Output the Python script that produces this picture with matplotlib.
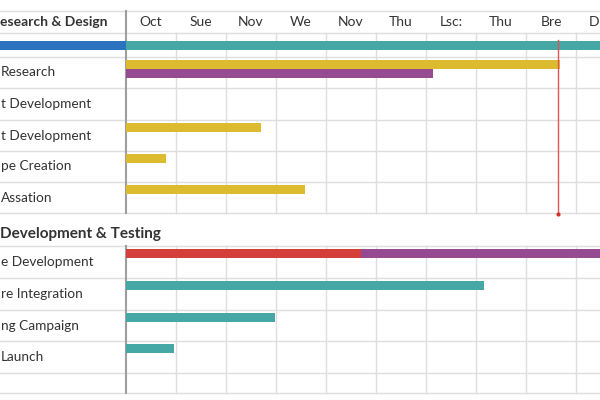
import matplotlib.pyplot as plt
import matplotlib.transforms as mtransforms

plt.rcParams['font.family'] = ['Lato', 'DejaVu Sans']

# column headers along the top (the last one is cut by the right edge)
TICK_LABELS = ["Oct", "Sue", "Nov", "We", "Nov", "Thu", "Lsc:", "Thu", "Bre", "D"]

# groups with their task rows
GROUP_1 = "esearch & Design"
GROUP_1_TASKS = ["", "Research", "t Development", "t Development", "pe Creation", "Assation"]
GROUP_2 = "Development & Testing"
GROUP_2_TASKS = ["e Development", "re Integration", "ng Campaign", "Launch", ""]

# bars: row index (group 1 rows 0..5, group 2 rows 6..10), start, end, colour name
BAR_ROWS = [0, 0, 1, 1, 3, 4, 5, 6, 6, 7, 8, 9]
BAR_STARTS = [-2.6, 0.0, 0.0, 0.0, 0.0, 0.0, 0.0, 0.0, 4.7, 0.0, 0.0, 0.0]
BAR_ENDS = [0.0, 10.0, 8.68, 6.14, 2.7, 0.8, 3.58, 4.7, 10.0, 7.16, 2.98, 0.95]
BAR_COLORS = ["blue", "teal", "yellow", "purple", "yellow", "yellow", "yellow",
              "red", "purple", "teal", "teal", "teal"]

TODAY = 8.64

PALETTE = {
    "blue": "#2b72bf",
    "teal": "#46a8a4",
    "yellow": "#dcbb2f",
    "purple": "#954a91",
    "red": "#d53f3a",
}

# layout in pixels (y grows downward)
GROUP_1_TOP, GROUP_1_HEAD_BOTTOM = 11, 33
GROUP_1_ROW_LINES = [33, 57, 88, 120, 151, 182, 213]
GROUP_2_HEAD_BOTTOM = 246
GROUP_2_ROW_LINES = [246, 278, 310, 341, 373, 393]
BAR_HEIGHT = 9

fig = plt.figure(figsize=(6, 4), dpi=100)
ax = fig.add_axes([0, 0, 1, 1])
ax.set_xlim(-2.52, 9.48)
ax.set_ylim(400, 0)
ax.axis('off')

grid_color = '#dedede'
text_color = '#333333'
axes_x = mtransforms.blended_transform_factory(ax.transAxes, ax.transData)

# horizontal lines
for y in [GROUP_1_TOP] + GROUP_1_ROW_LINES + GROUP_2_ROW_LINES:
    ax.axhline(y, color=grid_color, lw=1, zorder=1)

# vertical grid lines inside each block
for col in range(1, len(TICK_LABELS)):
    ax.plot([col, col], [GROUP_1_HEAD_BOTTOM, GROUP_1_ROW_LINES[-1]], color=grid_color, lw=1, zorder=1)
    ax.plot([col, col], [GROUP_2_HEAD_BOTTOM, GROUP_2_ROW_LINES[-1]], color=grid_color, lw=1, zorder=1)

# separator between labels and chart
ax.plot([0, 0], [GROUP_1_TOP, GROUP_1_ROW_LINES[-1]], color='#9e9e9e', lw=1.5, zorder=2)
ax.plot([0, 0], [GROUP_2_HEAD_BOTTOM, GROUP_2_ROW_LINES[-1]], color='#9e9e9e', lw=1.5, zorder=2)

# column headers
for i, label in enumerate(TICK_LABELS[:-1]):
    ax.text(i + 0.5, 22, label, ha='center', va='center', fontsize=10, color=text_color)
ax.text(len(TICK_LABELS) - 1 + 0.25, 22, TICK_LABELS[-1], ha='left', va='center',
        fontsize=10, color=text_color)

# group headers
ax.text(0.0, 22, GROUP_1, transform=axes_x, ha='left', va='center',
        fontsize=10, fontweight='bold', color=text_color)
ax.text(0.0, 234, GROUP_2, transform=axes_x, ha='left', va='center',
        fontsize=11, fontweight='bold', color=text_color)

# task labels, centred in their rows
row_tops = GROUP_1_ROW_LINES[:-1] + GROUP_2_ROW_LINES[:-1]
row_bottoms = GROUP_1_ROW_LINES[1:] + GROUP_2_ROW_LINES[1:]
labels = GROUP_1_TASKS + GROUP_2_TASKS
for top, bottom, label in zip(row_tops, row_bottoms, labels):
    if label:
        ax.text(0.002, (top + bottom) / 2, label, transform=axes_x, ha='left', va='center',
                fontsize=9.8, color=text_color)

# bars: first row is centred, others hang from the row top; bars starting at 0 stack
stack = {}
for row, start, end, cname in zip(BAR_ROWS, BAR_STARTS, BAR_ENDS, BAR_COLORS):
    top = row_tops[row]
    if row == 0:
        center = (top + row_bottoms[row]) / 2
    else:
        idx = stack.get(row, 0) if start == 0.0 else 0
        center = top + 7.5 + idx * BAR_HEIGHT
        if start == 0.0:
            stack[row] = idx + 1
    ax.barh(center, end - start, left=start, height=BAR_HEIGHT, color=PALETTE[cname], zorder=3)

# today marker
ax.plot([TODAY, TODAY], [40, 214], color='#e05555', lw=1, zorder=4)
ax.plot([TODAY], [214], marker='o', ms=2, color='#d03030', zorder=4)

fig.savefig('out.png', dpi=100)
